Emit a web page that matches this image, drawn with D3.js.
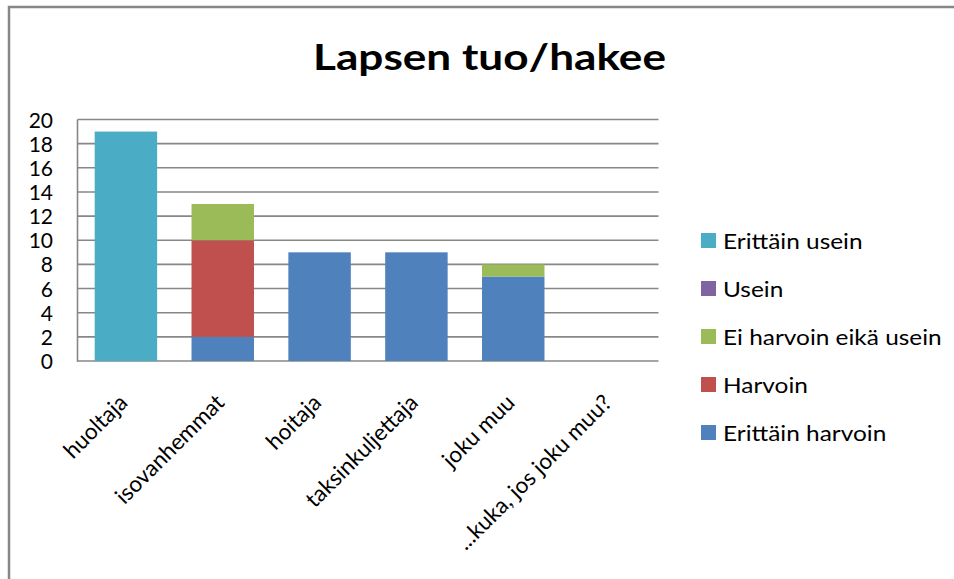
<!DOCTYPE html>
<html><head><meta charset="utf-8">
<script src="https://cdn.jsdelivr.net/npm/d3@7"></script>
<style>body{margin:0;background:#fff;}svg{display:block;}</style>
</head><body>
<svg id="chart" width="954" height="579"></svg>
<script>
const title = "Lapsen tuo/hakee";
const categories = ["huoltaja","isovanhemmat","hoitaja","taksinkuljettaja","joku muu","...kuka, jos joku muu?"];
const seriesNames = ["Erittäin harvoin","Harvoin","Ei harvoin eikä usein","Usein","Erittäin usein"];
const seriesColors = ["#4F81BD","#C0504D","#9BBB59","#8064A2","#4BACC6"];
const erittainHarvoin = [0,2,9,9,7,0];
const harvoin         = [0,8,0,0,0,0];
const eiHarvoinEikaUsein = [0,3,0,0,1,0];
const usein           = [0,0,0,0,0,0];
const erittainUsein   = [19,0,0,0,0,0];
const yTicks = [0,2,4,6,8,10,12,14,16,18,20];

const seriesValues = [erittainHarvoin, harvoin, eiHarvoinEikaUsein, usein, erittainUsein];
const rows = categories.map((c,i)=>{const r={cat:c}; seriesNames.forEach((s,j)=>r[s]=seriesValues[j][i]); return r;});
const stacked = d3.stack().keys(seriesNames)(rows);

const svg = d3.select("#chart");
const font = "Lato, 'Open Sans', sans-serif";
const grid = "#878787";

// outer frame
svg.append("rect").attr("x",9).attr("y",7).attr("width",1000).attr("height",700)
  .attr("fill","none").attr("stroke",grid).attr("stroke-width",2.5);

const L=77.5, R=658.5, T=119.5, B=361;
const x = d3.scaleBand().domain(categories).range([L,R]).paddingInner(0.355).paddingOuter(0.1775);
const y = d3.scaleLinear().domain([0,20]).range([B,T]);

// gridlines
svg.append("g").selectAll("line").data(yTicks).join("line")
  .attr("x1",L).attr("x2",R).attr("y1",d=>y(d)).attr("y2",d=>y(d))
  .attr("stroke",grid).attr("stroke-width",1.6);
svg.append("line").attr("x1",L).attr("x2",L).attr("y1",T).attr("y2",B+0.8)
  .attr("stroke",grid).attr("stroke-width",1.6);

// bars
svg.append("g").selectAll("g").data(stacked).join("g")
  .attr("fill",(d,i)=>seriesColors[i])
  .selectAll("rect").data(d=>d).join("rect")
  .attr("x",d=>x(d.data.cat)).attr("width",x.bandwidth())
  .attr("y",d=>y(d[1])).attr("height",d=>y(d[0])-y(d[1]));

// y axis labels
const yAxis = d3.axisLeft(y).tickValues(yTicks).tickSize(0).tickPadding(0);
const ga = svg.append("g").attr("transform",`translate(53,0)`).call(yAxis);
ga.select(".domain").remove();
ga.selectAll("text").attr("font-family",font).attr("font-size",21).attr("fill","#000").attr("dy","0.36em");

// x labels
const xAxis = d3.axisBottom(x).tickSize(0).tickPadding(0);
const gx = svg.append("g").attr("transform",`translate(0,${B})`).call(xAxis);
gx.select(".domain").remove();
gx.selectAll("text").attr("font-family",font).attr("font-size",22.5).attr("fill","#000")
  .attr("text-anchor","end").attr("dy",null)
  .attr("transform","translate(3,43) rotate(-45)");

// title
svg.append("text").attr("x",489.5).attr("y",69.5).attr("text-anchor","middle")
  .attr("font-family",font).attr("font-weight","bold").attr("font-size",36).attr("fill","#000")
  .attr("textLength",353).attr("lengthAdjust","spacingAndGlyphs").text(title);

// legend (reverse order)
const leg = svg.append("g").selectAll("g").data(seriesNames.slice().reverse()).join("g")
  .attr("transform",(d,i)=>`translate(701,${241+i*48})`);
leg.append("rect").attr("x",0).attr("y",-8).attr("width",15).attr("height",15)
  .attr("fill",d=>seriesColors[seriesNames.indexOf(d)]);
leg.append("text").attr("transform","translate(22,0) scale(1.11,1)").attr("dy","0.36em")
  .attr("font-family",font).attr("font-size",22).attr("fill","#000").text(d=>d);
</script>
</body></html>
